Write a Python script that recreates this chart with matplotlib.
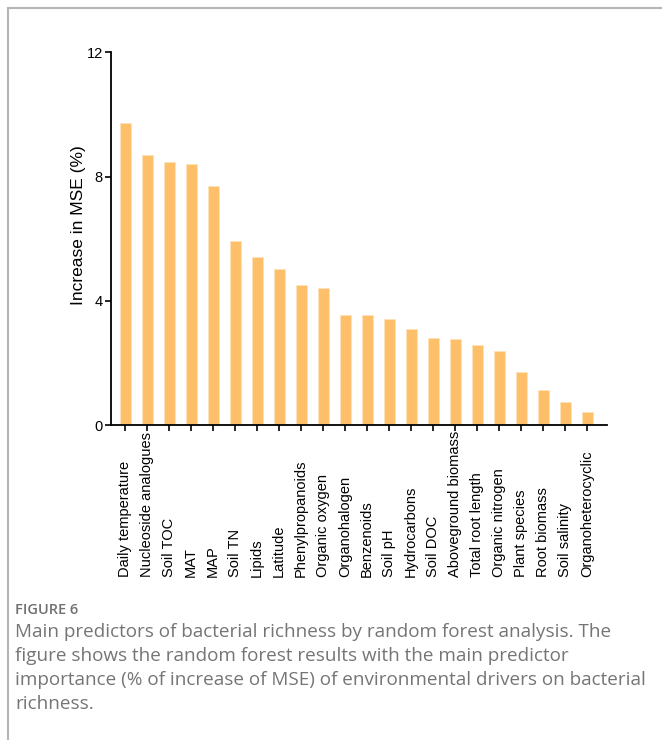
import matplotlib
matplotlib.use("Agg")
import matplotlib.pyplot as plt
from matplotlib.transforms import blended_transform_factory
from matplotlib.patches import Rectangle
import numpy as np

plt.rcParams['font.family'] = ['Liberation Sans', 'DejaVu Sans']

# data
predictors = ["Daily temperature", "Nucleoside analogues", "Soil TOC", "MAT", "MAP",
              "Soil TN", "Lipids", "Latitude", "Phenylpropanoids", "Organic oxygen",
              "Organohalogen", "Benzenoids", "Soil pH", "Hydrocarbons", "Soil DOC",
              "Aboveground biomass", "Total root length", "Organic nitrogen",
              "Plant species", "Root biomass", "Soil salinity", "Organoheterocyclic"]
mse_increase = [9.73, 8.70, 8.47, 8.41, 7.71, 5.93, 5.42, 5.03, 4.50, 4.43,
                3.54, 3.54, 3.42, 3.11, 2.80, 2.78, 2.60, 2.38, 1.71, 1.13, 0.77, 0.43]
yticks = [0, 4, 8, 12]

caption_head = "FIGURE 6"
caption = ("Main predictors of bacterial richness by random forest analysis. The\n"
           "figure shows the random forest results with the main predictor\n"
           "importance (% of increase of MSE) of environmental drivers on bacterial\n"
           "richness.")

W, H = 662, 740
fig = plt.figure(figsize=(W/100, H/100), dpi=100)

# light frame around figure
fig.patches.append(Rectangle((8/W, -0.05), 1.2, 1 - 8/H + 0.05, transform=fig.transFigure,
                             fill=False, edgecolor='#b5b5b5', linewidth=1.5))

ax = fig.add_axes([111/W, 1 - 425.5/H, 496/W, 373.5/H])
x = np.arange(len(predictors))
ax.bar(x, mse_increase, width=0.5, color='#fdbf6a', edgecolor='#fde3b8', linewidth=0.6, zorder=2)

ax.set_xlim(-0.64, len(predictors) - 0.1)
ax.set_ylim(0, 12)
ax.set_yticks(yticks)
ax.set_yticklabels([str(v) for v in yticks], fontsize=10.5)
ax.set_xticks(x)
ax.set_xticklabels([])
for s in ['top', 'right']:
    ax.spines[s].set_visible(False)
for s in ['left', 'bottom']:
    ax.spines[s].set_linewidth(1.3)
ax.tick_params(axis='both', length=4, width=1.2, pad=2)

trans = blended_transform_factory(ax.transData, fig.transFigure)
for xi, lab in zip(x, predictors):
    ax.text(xi, 1 - 577/H, lab, rotation=90, ha='center', va='bottom',
            fontsize=10.5, transform=trans)

fig.text(79/W, 1 - 225/H, "Increase in MSE (%)", rotation=90, ha='center', va='center',
         fontsize=12.5)

fig.text(15/W, 1 - 610/H, caption_head, fontsize=10.5, color='#707070', va='center',
         family=['Open Sans', 'DejaVu Sans'], fontweight='semibold')
fig.text(15/W, 1 - 623/H, caption, fontsize=13.6, color='#757575', va='top',
         family=['Open Sans', 'DejaVu Sans'], linespacing=1.42)

fig.savefig("out.png", dpi=100)
